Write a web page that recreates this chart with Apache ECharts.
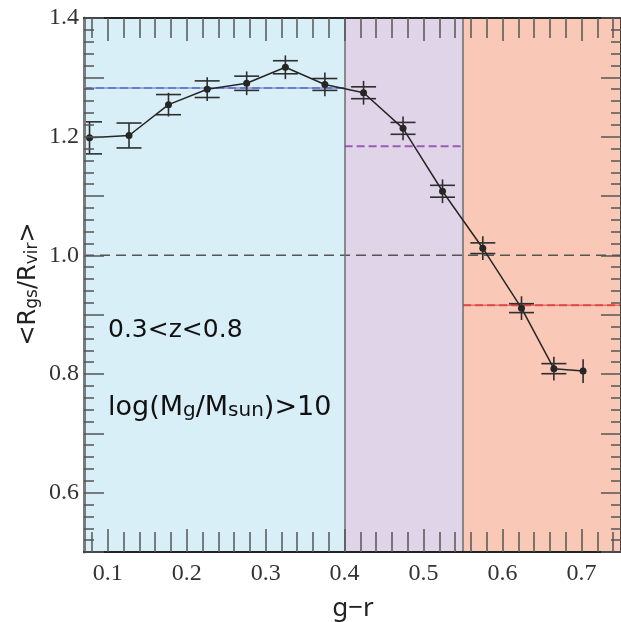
<!DOCTYPE html>
<html><head><meta charset="utf-8">
<script src="https://cdn.jsdelivr.net/npm/echarts@6/dist/echarts.min.js"></script>
<style>html,body{margin:0;padding:0;background:#fff}#c{width:621px;height:622px}</style>
</head><body><div id="c"></div>
<script>
// ---- data ----
const grColour = [0.077, 0.127, 0.177, 0.226, 0.276, 0.325, 0.375, 0.424, 0.474, 0.524, 0.575, 0.624, 0.665, 0.702];
const ratio    = [1.198, 1.202, 1.254, 1.280, 1.290, 1.317, 1.288, 1.274, 1.214, 1.108, 1.012, 0.911, 0.809, 0.805];
const capErr   = [0.027, 0.021, 0.017, 0.014, 0.012, 0.011, 0.010, 0.010, 0.010, 0.010, 0.009, 0.0075, 0.0085, 0];
const barErr   = [0.027, 0.021, 0.020, 0.020, 0.020, 0.020, 0.020, 0.020, 0.020, 0.020, 0.020, 0.020, 0.020, 0.020];
const regionEdges  = [0.07, 0.40, 0.55, 0.75];
const regionColors = ['#d9eff8', '#e0d4e8', '#f9c8b7'];
const meanLevels   = [1.282, 1.184, 0.916];
const meanColors   = ['#6a7bd0', '#9a5cb6', '#e04848'];
const meanUnderColors = ['#3848b0', '#9a5cb6', '#c02828'];
const refLevel = 1.0;
const xMajorTicks = [0.1, 0.2, 0.3, 0.4, 0.5, 0.6, 0.7];
const xMinorTicks = [0.08, 0.12, 0.14, 0.16, 0.18, 0.22, 0.24, 0.26, 0.28, 0.32, 0.34, 0.36, 0.38,
                     0.42, 0.44, 0.46, 0.48, 0.52, 0.54, 0.56, 0.58, 0.62, 0.64, 0.66, 0.68, 0.72, 0.74];
const xRange = [0.07, 0.75];
const yRange = [0.5, 1.4];

// ---- chart ----
const chart = echarts.init(document.getElementById('c'), null, {renderer: 'canvas'});
const tickStyle = {color: '#555', width: 1.5};
const serif = 'Liberation Serif';

function xAxisDef(pos, major) {
  return {
    type: 'value', position: pos, min: xRange[0], max: xRange[1], z: 20,
    splitLine: {show: false},
    axisLine: {show: major, onZero: false, lineStyle: {color: '#222', width: 2}},
    axisTick: {show: true, inside: true, length: major ? 23 : 20, lineStyle: tickStyle,
               customValues: major ? xMajorTicks : xMinorTicks},
    axisLabel: {show: major && pos === 'bottom', customValues: xMajorTicks, margin: 10,
                fontFamily: serif, fontSize: 24, color: '#333',
                formatter: v => v.toFixed(1)}
  };
}
function yAxisDef(pos) {
  return {
    type: 'value', position: pos, min: yRange[0], max: yRange[1], interval: 0.1, z: 20,
    splitLine: {show: false},
    axisLine: {show: true, onZero: false, lineStyle: {color: pos === 'left' ? '#7a7a7a' : '#444', width: pos === 'left' ? 3 : 2}},
    axisTick: {show: true, inside: true, length: 20, lineStyle: tickStyle},
    minorTick: {show: true, splitNumber: 5, length: 10, lineStyle: tickStyle},
    axisLabel: {show: pos === 'left', margin: 5, fontFamily: serif, fontSize: 24, color: '#333',
                formatter: v => (Math.round(v * 10) % 2 === 0 ? v.toFixed(1) : '')}
  };
}

const series = [];
// reference line + coloured regions
series.push({
  type: 'line', name: 'ref', z: 1, symbol: 'none', silent: true,
  data: [[xRange[0], refLevel], [xRange[1], refLevel]],
  lineStyle: {color: '#555', width: 1.5, type: [10, 6]},
  markArea: {silent: true, data: regionColors.map((c, i) => [
    {xAxis: regionEdges[i], itemStyle: {color: c}}, {xAxis: regionEdges[i + 1]}])},
  markLine: {silent: true, symbol: 'none', label: {show: false},
    lineStyle: {color: '#6e6e6e', width: 1.5, type: 'solid'},
    data: regionEdges.slice(1, -1).map(e => ({xAxis: e}))}
});
// mean levels per region (thin solid line under a dashed one)
meanLevels.forEach((m, i) => {
  const d = [[regionEdges[i], m], [regionEdges[i + 1], m]];
  if (i !== 1) {
    series.push({type: 'line', z: 2, symbol: 'none', silent: true, data: d,
      lineStyle: {color: meanUnderColors[i], width: 0.8, type: 'solid'}});
  }
  series.push({
    type: 'line', z: 2, symbol: 'none', silent: true, data: d,
    lineStyle: {color: meanColors[i], width: 2, type: [8, 4]}
  });
});
// error bars
series.push({
  type: 'custom', z: 4, clip: true,
  data: grColour.map((x, i) => [x, ratio[i], capErr[i], barErr[i]]),
  renderItem: function (params, api) {
    const x = api.value(0), y = api.value(1), c = api.value(2), b = api.value(3);
    const top = api.coord([x, y + b]), bot = api.coord([x, y - b]);
    const st = {stroke: '#2e2e2e', lineWidth: 1.6};
    const ch = [{type: 'line', shape: {x1: top[0], y1: top[1], x2: bot[0], y2: bot[1]}, style: st}];
    if (c > 0) {
      const ct = api.coord([x, y + c]), cb = api.coord([x, y - c]);
      ch.push({type: 'line', shape: {x1: ct[0] - 12.5, y1: ct[1], x2: ct[0] + 12.5, y2: ct[1]}, style: st});
      ch.push({type: 'line', shape: {x1: cb[0] - 12.5, y1: cb[1], x2: cb[0] + 12.5, y2: cb[1]}, style: st});
    }
    return {type: 'group', children: ch};
  }
});
// main curve
series.push({
  type: 'line', z: 5, symbol: 'circle', symbolSize: 7,
  data: grColour.map((x, i) => [x, ratio[i]]),
  lineStyle: {color: '#262626', width: 1.5},
  itemStyle: {color: '#262626'}
});

const sans = 'DejaVu Sans';
chart.setOption({
  animation: false,
  backgroundColor: '#fff',
  grid: {left: 84, right: 0, top: 18, bottom: 70, containLabel: false},
  xAxis: [xAxisDef('bottom', true), xAxisDef('bottom', false), xAxisDef('top', true), xAxisDef('top', false)],
  yAxis: [yAxisDef('left'), yAxisDef('right')],
  series: series,
  graphic: [
    {type: 'text', left: 108, top: 318, z: 30,
     style: {text: '0.3<z<0.8', font: '25px "DejaVu Sans"', fill: '#111'}},
    {type: 'text', left: 108, top: 394, z: 30,
     style: {text: '{a|log(M}{b|g}{a|/M}{b|sun}{a|)>10}', fill: '#111',
       rich: {a: {fontFamily: sans, fontSize: 27, fill: '#111', verticalAlign: 'bottom', lineHeight: 30},
              b: {fontFamily: sans, fontSize: 20, fill: '#111', verticalAlign: 'bottom', lineHeight: 30}}}},
    {type: 'text', x: 27, y: 284, rotation: Math.PI / 2, z: 30,
     style: {text: '{a|<R}{b|gs}{a|/R}{b|vir}{a|>}', align: 'center', verticalAlign: 'middle', fill: '#222',
       rich: {a: {fontFamily: sans, fontSize: 24, fill: '#222', verticalAlign: 'bottom', lineHeight: 28},
              b: {fontFamily: sans, fontSize: 17, fill: '#222', verticalAlign: 'bottom', lineHeight: 28}}}},
    {type: 'text', x: 353, y: 609, z: 30,
     style: {text: 'g\u2212r', align: 'center', verticalAlign: 'middle', font: '26px "Noto Sans"', fill: '#222'}}
  ]
});
</script>
</body></html>
